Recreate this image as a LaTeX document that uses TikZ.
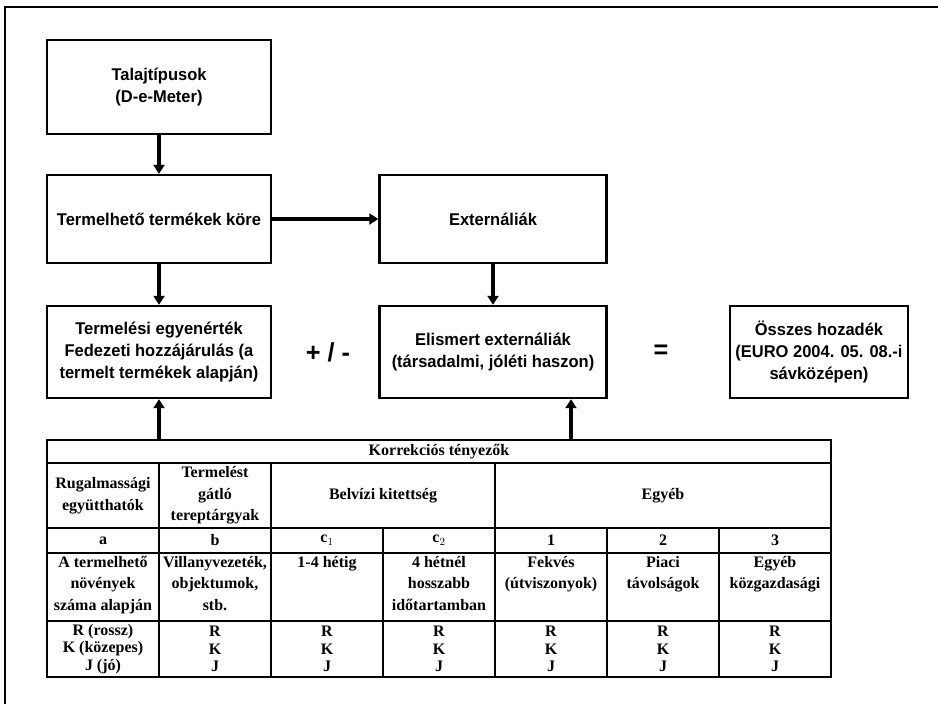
\documentclass[tikz,border=0pt]{standalone}
\usepackage{fontspec}
\setmainfont{Liberation Serif}
\newfontfamily\boxfont{Liberation Sans}[FakeStretch=0.97]
\usetikzlibrary{arrows.meta}
\begin{document}
\begin{tikzpicture}[x=1pt,y=-1pt,
  flowbox/.style={draw, line width=2.4pt, align=center, inner sep=2pt,
    font=\boxfont\bfseries\fontsize{17}{22}\selectfont},
  arr/.style={line width=3.6pt, -{Triangle[length=9pt,width=11pt]}},
  tline/.style={line width=1.7pt},
  tcell/.style={align=center, inner sep=0pt, font=\bfseries\fontsize{16}{21.5}\selectfont},
  rkj/.style={align=center, inner sep=0pt, font=\bfseries\fontsize{16}{17.5}\selectfont},
  sym/.style={font=\boxfont\bfseries\fontsize{26}{28}\selectfont}]
\useasboundingbox (0,0) rectangle (938,704);
\fill[white] (0,0) rectangle (938,704);
% frame
\draw[line width=1.5pt] (5,704) -- (5,7) -- (938,7);
% boxes
\node[flowbox, minimum width=224pt, minimum height=94pt] (tal) at (159,87) {Talajtípusok\\(D-e-Meter)};
\node[flowbox, minimum width=224pt, minimum height=88pt] (term) at (159,219) {Termelhető termékek köre};
\node[flowbox, minimum width=227pt, minimum height=88pt] (ext) at (493,219) {Externáliák};
\node[flowbox, minimum width=224pt, minimum height=92pt] (egy) at (159,352) {Termelési egyenérték\\Fedezeti hozzájárulás (a\\termelt termékek alapján)};
\node[flowbox, minimum width=227pt, minimum height=92pt] (elis) at (493,352) {Elismert externáliák\\(társadalmi, jóléti haszon)};
\node[flowbox, minimum width=178pt, minimum height=92pt] (ossz) at (819,352) {Összes hozadék\\(EURO 2004. 05. 08.-i\\sávközépen)};
\node[sym] (pm) at (328,352) {+ / -};
\node[sym] (eq) at (661,352) {=};
% table
\coordinate (tA) at (159,440);
\coordinate (tB) at (571,440);
\draw[line width=2.4pt] (47,440) rectangle (831,677);
\draw[tline] (47,463) -- (831,463);
\draw[tline] (47,528) -- (831,528);
\draw[tline] (47,553) -- (831,553);
\draw[line width=2.3pt] (47,621) -- (831,621);
\draw[tline] (159,463) -- (159,677);
\draw[tline] (271,463) -- (271,677);
\draw[tline] (383,528) -- (383,677);
\draw[tline] (495,463) -- (495,677);
\draw[tline] (607,528) -- (607,677);
\draw[tline] (719,528) -- (719,677);
% table texts
\node[tcell] (kt) at (439,451.5) {Korrekciós tényezők};
\node[tcell] (h1) at (103,495.5) {Rugalmassági\\együtthatók};
\node[tcell] (h2) at (215,495.5) {Termelést\\gátló\\tereptárgyak};
\node[tcell] (h3) at (383,495.5) {Belvízi kitettség};
\node[tcell] (h4) at (663,495.5) {Egyéb};
\node[tcell] (la) at (103,540.5) {a};
\node[tcell] (lb) at (215,540.5) {b};
\node[tcell] (lc1) at (327,540.5) {c$_1$};
\node[tcell] (lc2) at (439,540.5) {c$_2$};
\node[tcell] (l1) at (551,540.5) {1};
\node[tcell] (l2) at (663,540.5) {2};
\node[tcell] (l3) at (775,540.5) {3};
\node[tcell, anchor=north] (d1) at (103,556) {A termelhető\\növények\\száma alapján};
\node[tcell, anchor=north] (d2) at (215,556) {Villanyvezeték,\\objektumok,\\stb.};
\node[tcell, anchor=north] (d3) at (327,556) {1-4 hétig};
\node[tcell, anchor=north] (d4) at (439,556) {4 hétnél\\hosszabb\\időtartamban};
\node[tcell, anchor=north] (d5) at (551,556) {Fekvés\\(útviszonyok)};
\node[tcell, anchor=north] (d6) at (663,556) {Piaci\\távolságok};
\node[tcell, anchor=north] (d7) at (775,556) {Egyéb\\közgazdasági};
\node[rkj] (r1) at (103,649) {R (rossz)\\K (közepes)\\J (jó)};
\node[rkj] (r2) at (215,649) {R\\K\\J};
\node[rkj] (r3) at (327,649) {R\\K\\J};
\node[rkj] (r4) at (439,649) {R\\K\\J};
\node[rkj] (r5) at (551,649) {R\\K\\J};
\node[rkj] (r6) at (663,649) {R\\K\\J};
\node[rkj] (r7) at (775,649) {R\\K\\J};
% arrows
\draw[arr] (tal.south) -- (term.north);
\draw[arr] (term.east) -- (ext.west);
\draw[arr] (term.south) -- (egy.north);
\draw[arr] (ext.south) -- (elis.north);
\draw[arr] (tA) -- (egy.south);
\draw[arr] (tB) -- (elis.south -| tB);
\end{tikzpicture}
\end{document}
